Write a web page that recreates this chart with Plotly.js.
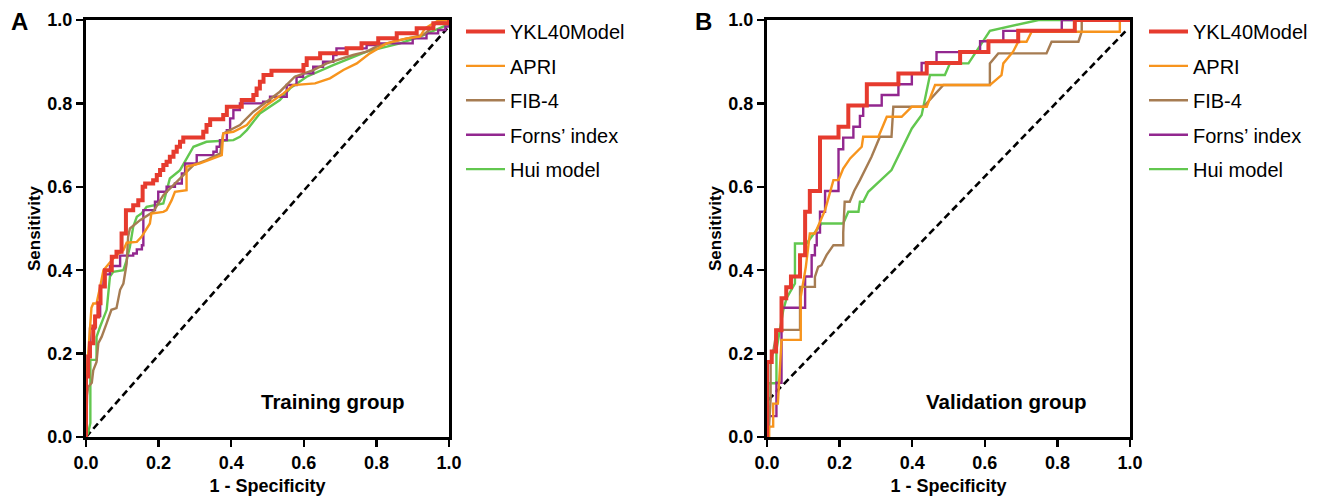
<!DOCTYPE html>
<html>
<head>
<meta charset="utf-8">
<script src="https://cdn.plot.ly/plotly-3.0.1.min.js"></script>
<style>html,body{margin:0;padding:0;background:#fff;}#chart{width:1320px;height:496px;}</style>
</head>
<body>
<div id="chart"></div>
<script>
// ---------- Series names ----------
const seriesNames = ["YKL40Model", "APRI", "FIB-4", "Forns\u2019 index", "Hui model"];
const seriesColors = ["#E63B2E", "#F7941D", "#A67C52", "#92278F", "#62C74F"];

// ---------- Training group (panel A) ----------
const trainYklX = [0,0,0.006,0.011,0.020,0.025,0.034,0.040,0.052,0.071,0.084,0.098,0.110,0.130,0.144,0.156,0.163,0.185,0.195,0.204,0.213,0.222,0.231,0.241,0.250,0.259,0.268,0.323,0.332,0.342,0.378,0.388,0.429,0.461,0.470,0.479,0.489,0.511,0.599,0.608,0.645,0.718,0.759,0.805,0.856,0.911,0.957,1.0];
const trainYklY = [0,0.145,0.193,0.225,0.265,0.289,0.321,0.361,0.400,0.432,0.444,0.488,0.544,0.556,0.568,0.600,0.608,0.616,0.628,0.640,0.652,0.660,0.672,0.684,0.696,0.708,0.718,0.732,0.748,0.762,0.772,0.792,0.808,0.820,0.836,0.852,0.868,0.878,0.892,0.908,0.920,0.932,0.944,0.956,0.968,0.980,0.992,1.0];

const trainApriX = [0,0,0.006,0.011,0.015,0.020,0.029,0.039,0.048,0.071,0.084,0.103,0.112,0.140,0.153,0.176,0.180,0.213,0.222,0.236,0.245,0.277,0.277,0.314,0.374,0.378,0.406,0.443,0.466,0.498,0.544,0.571,0.631,0.672,0.709,0.746,0.782,0.828,0.883,0.920,0.934,0.957,0.975,1.0];
const trainApriY = [0,0.13,0.20,0.26,0.31,0.32,0.32,0.36,0.40,0.424,0.436,0.448,0.466,0.468,0.480,0.512,0.536,0.540,0.544,0.568,0.588,0.592,0.648,0.656,0.676,0.728,0.732,0.748,0.772,0.796,0.824,0.844,0.848,0.860,0.880,0.896,0.920,0.944,0.956,0.960,0.980,0.992,1.0,1.0];

const trainFib4X = [0,0.003,0.006,0.016,0.020,0.029,0.034,0.043,0.057,0.070,0.084,0.094,0.103,0.112,0.116,0.121,0.149,0.185,0.213,0.231,0.264,0.296,0.332,0.370,0.378,0.424,0.461,0.534,0.575,0.626,0.663,0.736,0.773,0.800,0.846,0.892,0.929,0.957,0.966,1.0];
const trainFib4Y = [0,0.10,0.12,0.13,0.16,0.18,0.225,0.24,0.273,0.305,0.309,0.353,0.368,0.416,0.48,0.50,0.52,0.54,0.58,0.596,0.624,0.652,0.664,0.68,0.728,0.748,0.78,0.828,0.864,0.88,0.896,0.916,0.924,0.936,0.948,0.956,0.964,0.984,0.996,1.0];

const trainFornsX = [0,0,0.006,0.011,0.025,0.039,0.048,0.066,0.094,0.130,0.140,0.154,0.158,0.190,0.199,0.222,0.245,0.264,0.273,0.305,0.351,0.360,0.369,0.388,0.397,0.406,0.424,0.488,0.507,0.553,0.580,0.598,0.626,0.653,0.681,0.690,0.773,0.810,0.900,0.938,0.970,0.990,1.0];
const trainFornsY = [0,0.16,0.20,0.26,0.29,0.36,0.39,0.41,0.435,0.44,0.45,0.46,0.544,0.564,0.588,0.600,0.608,0.632,0.656,0.676,0.684,0.696,0.712,0.736,0.764,0.784,0.800,0.804,0.816,0.844,0.864,0.872,0.888,0.900,0.916,0.932,0.940,0.944,0.956,0.968,0.976,0.984,1.0];

const trainHuiX = [0,0.006,0.012,0.012,0.029,0.029,0.039,0.057,0.066,0.075,0.103,0.112,0.121,0.130,0.140,0.153,0.167,0.213,0.231,0.259,0.296,0.332,0.406,0.424,0.443,0.479,0.534,0.562,0.608,0.681,0.773,0.865,0.920,0.966,0.994,1.0];
const trainHuiY = [0,0.01,0.033,0.185,0.185,0.24,0.265,0.305,0.385,0.396,0.40,0.424,0.456,0.504,0.528,0.536,0.552,0.56,0.62,0.64,0.696,0.708,0.712,0.72,0.736,0.776,0.808,0.836,0.864,0.892,0.924,0.944,0.96,0.978,0.988,1.0];

const trainRefX = [0, 0.995];
const trainRefY = [0, 0.98];

// ---------- Validation group (panel B) ----------
const valYklX = [0,0,0.013,0.025,0.040,0.053,0.066,0.091,0.105,0.118,0.146,0.197,0.224,0.275,0.362,0.440,0.532,0.610,0.692,0.848,1.0];
const valYklY = [0,0.18,0.205,0.256,0.333,0.359,0.385,0.436,0.54,0.59,0.718,0.744,0.795,0.846,0.872,0.897,0.923,0.949,0.974,1.0,1.0];

const valApriX = [0,0.006,0.006,0.017,0.017,0.030,0.040,0.093,0.093,0.107,0.118,0.132,0.160,0.183,0.197,0.210,0.229,0.261,0.265,0.307,0.330,0.371,0.399,0.440,0.463,0.614,0.646,0.651,0.678,0.692,0.715,0.729,0.972,0.972,1.0];
const valApriY = [0,0,0.025,0.025,0.08,0.08,0.233,0.233,0.336,0.408,0.488,0.488,0.544,0.616,0.616,0.644,0.668,0.696,0.72,0.72,0.768,0.768,0.792,0.792,0.844,0.844,0.868,0.896,0.924,0.948,0.948,0.972,0.972,1.0,1.0];

const valFib4X = [0,0.004,0.010,0.010,0.018,0.027,0.091,0.091,0.132,0.132,0.141,0.150,0.164,0.183,0.210,0.210,0.214,0.228,0.240,0.256,0.288,0.311,0.343,0.348,0.431,0.486,0.614,0.614,0.637,0.770,0.784,0.858,0.867,0.867,1.0];
const valFib4Y = [0,0,0.09,0.18,0.209,0.257,0.257,0.36,0.36,0.384,0.408,0.412,0.436,0.46,0.46,0.49,0.564,0.564,0.59,0.616,0.672,0.72,0.72,0.792,0.792,0.844,0.844,0.896,0.92,0.92,0.948,0.948,0.972,1.0,1.0];

const valFornsX = [0,0,0.026,0.040,0.105,0.123,0.132,0.137,0.146,0.160,0.197,0.210,0.238,0.256,0.265,0.316,0.362,0.399,0.426,0.467,0.587,0.651,0.812,1.0];
const valFornsY = [0,0.05,0.13,0.31,0.385,0.436,0.46,0.49,0.54,0.59,0.69,0.718,0.744,0.77,0.795,0.82,0.846,0.872,0.897,0.923,0.949,0.974,1.0,1.0];

const valHuiX = [0,0.004,0.004,0.026,0.026,0.045,0.054,0.077,0.077,0.109,0.150,0.210,0.224,0.252,0.256,0.265,0.279,0.343,0.399,0.426,0.449,0.490,0.504,0.555,0.614,0.748,1.0];
const valHuiY = [0,0.05,0.129,0.129,0.209,0.305,0.333,0.368,0.464,0.464,0.512,0.512,0.54,0.54,0.564,0.564,0.588,0.64,0.74,0.772,0.868,0.868,0.896,0.896,0.974,1.0,1.0];

const valRefX = [0.004, 0.991];
const valRefY = [0.089, 0.976];

// ---------- Axis ticks ----------
const tickVals = [0, 0.2, 0.4, 0.6, 0.8, 1.0];
const tickText = ["0.0", "0.2", "0.4", "0.6", "0.8", "1.0"];
const xTitle = "1 - Specificity";
const yTitle = "Sensitivity";
const panelLabels = ["A", "B"];
const groupLabels = ["Training group", "Validation group"];

const FONT = "Liberation Sans, Arial, Helvetica, sans-serif";

function curve(x, y, idx, xa, ya, leg, shape) {
  return {
    x: x, y: y, xaxis: xa, yaxis: ya, type: "scatter", mode: "lines",
    name: seriesNames[idx], legend: leg, legendrank: idx + 1, legendgroup: leg + "_" + idx,
    line: {color: seriesColors[idx], width: idx === 0 ? 4 : 2.4, shape: shape || "linear"},
    hoverinfo: "skip"
  };
}
function refLine(x, y, xa, ya) {
  return {x: x, y: y, xaxis: xa, yaxis: ya, type: "scatter", mode: "lines", showlegend: false,
    line: {color: "#000", width: 2.6, dash: "7px,4px"}, hoverinfo: "skip"};
}

const traces = [
  refLine(trainRefX, trainRefY, "x", "y"),
  curve(trainHuiX, trainHuiY, 4, "x", "y", "legend"),
  curve(trainFornsX, trainFornsY, 3, "x", "y", "legend", "hv"),
  curve(trainFib4X, trainFib4Y, 2, "x", "y", "legend"),
  curve(trainApriX, trainApriY, 1, "x", "y", "legend"),
  curve(trainYklX, trainYklY, 0, "x", "y", "legend", "hv"),
  refLine(valRefX, valRefY, "x2", "y2"),
  curve(valHuiX, valHuiY, 4, "x2", "y2", "legend2"),
  curve(valFornsX, valFornsY, 3, "x2", "y2", "legend2", "hv"),
  curve(valFib4X, valFib4Y, 2, "x2", "y2", "legend2"),
  curve(valApriX, valApriY, 1, "x2", "y2", "legend2"),
  curve(valYklX, valYklY, 0, "x2", "y2", "legend2", "hv")
];

const boldTicks = tickText.map(t => "<b>" + t + "</b>");

function xAxis(domain, anchor) {
  return {
    domain: domain, anchor: anchor, range: [0, 1], tickvals: tickVals, ticktext: boldTicks,
    showline: true, mirror: true, linecolor: "#000", linewidth: 3,
    ticks: "outside", ticklen: 7, tickwidth: 2.5, tickcolor: "#000",
    showgrid: false, zeroline: false, fixedrange: true,
    tickfont: {family: FONT, size: 18, color: "#000"},
    title: {text: "<b>" + xTitle + "</b>", font: {family: FONT, size: 18, color: "#000"}, standoff: 12}
  };
}
function yAxis(domain, anchor) {
  return {
    domain: domain, anchor: anchor, range: [0, 1], tickvals: tickVals, ticktext: boldTicks,
    showline: true, mirror: true, linecolor: "#000", linewidth: 3,
    ticks: "outside", ticklen: 7, tickwidth: 2.5, tickcolor: "#000",
    showgrid: false, zeroline: false, fixedrange: true,
    tickfont: {family: FONT, size: 18, color: "#000"},
    title: {text: "<b>" + yTitle + "</b>", font: {family: FONT, size: 17, color: "#000"}, standoff: 3}
  };
}

const W = 1320, H = 496;
const yDom = [59 / H, 476 / H];
const legendFont = {family: FONT, size: 20, color: "#000"};
const layout = {
  width: W, height: H,
  margin: {l: 0, r: 0, t: 0, b: 0},
  paper_bgcolor: "#fff", plot_bgcolor: "#fff",
  font: {family: FONT, color: "#000"},
  showlegend: true,
  xaxis: xAxis([86 / W, 449 / W], "y"),
  yaxis: yAxis(yDom, "x"),
  xaxis2: xAxis([767 / W, 1130 / W], "y2"),
  yaxis2: yAxis(yDom, "x2"),
  legend: {x: 461 / W, y: 1 - 12 / H, xanchor: "left", yanchor: "top", bgcolor: "rgba(0,0,0,0)",
    font: legendFont, tracegroupgap: 5.4, itemwidth: 39, traceorder: "grouped"},
  legend2: {x: 1144 / W, y: 1 - 12 / H, xanchor: "left", yanchor: "top", bgcolor: "rgba(0,0,0,0)",
    font: legendFont, tracegroupgap: 5.4, itemwidth: 39, traceorder: "grouped"},
  annotations: [
    {xref: "paper", yref: "paper", x: 19 / W, y: 1 - 22 / H, text: "<b>" + panelLabels[0] + "</b>", showarrow: false,
      font: {family: FONT, size: 24, color: "#000"}, xanchor: "center", yanchor: "middle"},
    {xref: "paper", yref: "paper", x: 703 / W, y: 1 - 22 / H, text: "<b>" + panelLabels[1] + "</b>", showarrow: false,
      font: {family: FONT, size: 24, color: "#000"}, xanchor: "center", yanchor: "middle"},
    {xref: "paper", yref: "paper", x: 333 / W, y: 1 - 401 / H, text: "<b>" + groupLabels[0] + "</b>", showarrow: false,
      font: {family: FONT, size: 20.5, color: "#000"}, xanchor: "center", yanchor: "middle"},
    {xref: "paper", yref: "paper", x: 1006 / W, y: 1 - 401 / H, text: "<b>" + groupLabels[1] + "</b>", showarrow: false,
      font: {family: FONT, size: 20.5, color: "#000"}, xanchor: "center", yanchor: "middle"}
  ]
};

Plotly.newPlot("chart", traces, layout, {displayModeBar: false, staticPlot: true});
</script>
</body>
</html>
